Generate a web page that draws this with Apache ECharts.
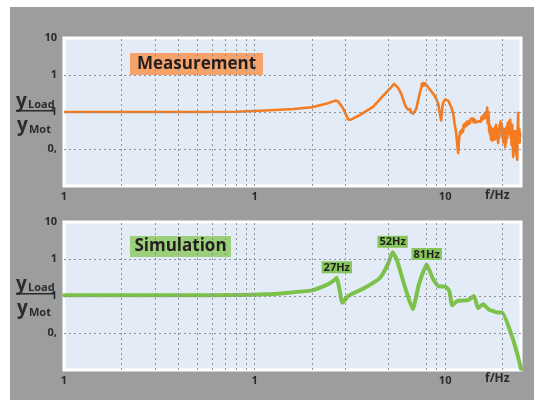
<!DOCTYPE html>
<html>
<head>
<meta charset="utf-8">
<script src="https://cdn.jsdelivr.net/npm/echarts@6/dist/echarts.min.js"></script>
<style>
html,body{margin:0;padding:0;background:#fff;}
#EchartBox{width:534px;height:400px;}
</style>
</head>
<body>
<div id="EchartBox"></div>
<script>
// measured transfer ratio yLoad/yMot, [f in Hz, ratio]
var measData = [[1,1.0],[2,1.0],[5,1.0],[8,1.02],[11.4,1.1],[16,1.2],[20,1.34],[24,1.7],[26.5,2.03],[27.4,1.95],[29,1.3],[31,0.63],[32,0.62],
	[36,0.85],[42,1.4],[47.3,2.75],[52,4.6],[54,5.75],[56.7,4.5],[59,3.0],[61.7,1.5],[62.2,1.6],[62.5,1.35],[63.2,1.45],[63.9,1.15],[64.4,1.3],
	[65,1.05],[65.6,1.2],[66,1.0],[67,1.1],[67.8,0.9],[68.8,0.81],[70.5,1.2],[72.1,2.03],[74,3.6],[75,4.6],[75.5,5.8],[76.2,5.0],[76.7,6.1],
	[77.5,5.2],[78.5,6.0],[79.5,5.3],[80.5,5.0],[81.5,4.5],[84,3.8],[86.5,3.1],[89,2.5],[91.9,1.69],[93.5,1.0],[95.3,0.59],[96.5,1.3],
	[97.6,1.79],[100,2.2],[102.4,2.29],[104,2.0],[106.2,1.91],[108,1.3],[110.2,0.91],[112,0.5],[114.3,0.27],[116,0.12],[117,0.078],
	[118.5,0.2],[120,0.3],[121,0.26],[122.8,0.34],[124,0.29],[125,0.45],[126,0.38],[127.4,0.49],[129,0.42],[130,0.55],[132,0.46],
	[134,0.58],[135,0.5],[136.5,0.66],[138.6,0.6],[140,0.67],[141,0.53],[143,0.62],[144.5,0.52],[146,0.58],[148,0.47],[150,0.56],
	[152,0.62],[154,0.55],[155,0.72],[157,0.62],[158.3,0.81],[159.5,0.66],[161,0.9],[162,0.7],[163.5,1.0],[165,0.75],[166.1,1.32],
	[167,0.5],[168.5,1.0],[169.5,0.6],[170.2,0.3],[171,0.45],[172,0.25],[173,0.4],[174,0.18],[175.5,0.3],[176.4,0.17],[178,0.35],
	[179,0.22],[180,0.3],[181.5,0.18],[183,0.39],[184,0.25],[185,0.45],[186,0.2],[187,0.3],[188.5,0.18],[189.8,0.145],[191,0.35],
	[192,0.2],[193,0.45],[194,0.25],[195,0.55],[196,0.3],[197.5,0.5],[199.2,0.35],[200,0.2],[201,0.3],[202,0.15],[203,0.35],
	[205,0.2],[206.6,0.113],[207.5,0.25],[208,0.35],[209,0.15],[210,0.4],[211.5,0.2],[213,0.5],[214.5,0.25],[216,0.55],[217.5,0.3],
	[219.4,0.62],[220.5,0.3],[221,0.2],[222,0.4],[223,0.13],[224,0.3],[225,0.45],[226,0.15],[227.6,0.061],[229,0.25],[230,0.12],
	[231,0.3],[232,0.09],[233,0.2],[234,0.3],[235,0.1],[236,0.07],[237,0.2],[238.8,0.051],[239.5,0.15],[240,0.3],[241,0.6],[241.6,0.95],
	[242,0.3],[242.5,0.15],[243.5,0.3],[244,0.2],[245,0.35],[246,0.15],[247,0.28],[247.6,0.21]];

// simulated transfer ratio
var simData = [[1,1.05],[5,1.05],[11.4,1.11],[20,1.42],[24.2,2.06],[26,2.6],[27,3.1],[27.8,1.67],[28.9,0.66],[31,1.0],[37.9,1.67],
	[45.5,3.1],[50,7.1],[53,15.2],[55.7,9.67],[61.7,1.67],[67.6,0.44],[72.8,2.06],[80,7.1],[86.5,2.81],[91.9,1.86],[100.5,1.78],
	[105.2,1.36],[108.9,0.56],[115.6,0.73],[131.9,0.77],[141.7,1.0],[148.9,0.47],[158.3,0.6],[168.5,0.44],[189.8,0.356],[199.2,0.356],
	[225.2,0.076],[241.6,0.022],[250,0.0108]];

var peakFreq = [27, 53, 80];
var peakVal = [3.1, 15.2, 7.1];
var peakLabel = ['27Hz', '52Hz', '81Hz'];

var xGridLines = [2,3,4,5,6,7,8,9,10,20,30,50,80,90,100,200];
var yGridLines = [0.1,1,10];

// tick texts as printed on the original (by decade exponent)
var xTickText = {'0':'1', '1':'1', '2':'10'};
var yTickText = {'2':'10', '1':'1', '0':'1', '-1':'0,'};

var FONT = 'Open Sans';
var gridTops = [38, 222];

function decadeText(table) {
	return function (v) {
		var e = Math.log(v) / Math.LN10;
		var r = Math.round(e);
		if (Math.abs(e - r) > 0.01) return '';
		return table[String(r)] || '';
	};
}

function makeX(idx) {
	return {
		type:'log', logBase:10, gridIndex:idx, min:1, max:250,
		axisLine:{show:false}, axisTick:{show:false}, splitLine:{show:false},
		axisLabel:{margin:5, color:'#2b2b2b', fontSize:11, fontWeight:'bold', fontFamily:FONT, formatter:decadeText(xTickText)}
	};
}
function makeY(idx) {
	return {
		type:'log', logBase:10, gridIndex:idx, min:0.01, max:100,
		axisLine:{show:false}, axisTick:{show:false}, splitLine:{show:false},
		axisLabel:{margin:7, color:'#2b2b2b', fontSize:11, fontWeight:'bold', fontFamily:FONT, formatter:decadeText(yTickText)}
	};
}

// dashed grid drawn as markLines on an empty helper series
function gridSeries(idx) {
	var lines = [];
	for (var i = 0; i < xGridLines.length; i++) lines.push({xAxis:xGridLines[i]});
	for (var j = 0; j < yGridLines.length; j++) lines.push({yAxis:yGridLines[j]});
	return {
		type:'line', xAxisIndex:idx, yAxisIndex:idx, data:[], z:1, silent:true,
		markLine:{silent:true, symbol:'none', label:{show:false}, animation:false,
			lineStyle:{color:'#8f9193', width:1, type:[2,3]}, data:lines}
	};
}

// y_Load / y_Mot fraction label
function fractionLabel(top) {
	var c = '#2b2b2b';
	return [
		{type:'text', left:16, top:top - 19, z:10, style:{text:'y', fill:c, font:'bold 19px "' + FONT + '"'}},
		{type:'text', left:28, top:top - 12, z:10, style:{text:'Load', fill:c, font:'bold 11px "' + FONT + '"'}},
		{type:'rect', z:10, shape:{x:16, y:top - 1, width:38, height:1.6}, style:{fill:c}},
		{type:'text', left:17, top:top + 5, z:10, style:{text:'y', fill:c, font:'bold 19px "' + FONT + '"'}},
		{type:'text', left:29, top:top + 13, z:10, style:{text:'Mot', fill:c, font:'bold 11px "' + FONT + '"'}}
	];
}

function titleBox(x, y, w, h, fill, text) {
	return [
		{type:'rect', z:5, shape:{x:x, y:y, width:w, height:h}, style:{fill:fill}},
		{type:'text', z:10, x:x + w / 2, y:y + h / 2,
			style:{text:text, fill:'#231f20', font:'bold 17px "' + FONT + '"', align:'center', verticalAlign:'middle'}}
	];
}

var peakPoints = [];
for (var p = 0; p < peakFreq.length; p++) {
	peakPoints.push({name:peakLabel[p], coord:[peakFreq[p], peakVal[p]]});
}

var graphics = [
	{type:'rect', z:-10, shape:{x:10, y:7, width:524, height:393}, style:{fill:'#9b9d9f'}},
	{type:'text', z:10, left:485, top:190, style:{text:'f/Hz', fill:'#2b2b2b', font:'bold 12px "' + FONT + '"'}},
	{type:'text', z:10, left:485, top:373, style:{text:'f/Hz', fill:'#2b2b2b', font:'bold 12px "' + FONT + '"'}}
].concat(fractionLabel(111), fractionLabel(294),
	titleBox(130, 53, 133, 22, '#f5a36b', 'Measurement'),
	titleBox(130, 236, 101, 21, '#9ccf79', 'Simulation'));

var option = {
	animation:false,
	backgroundColor:'#fff',
	grid:[
		{left:64, top:gridTops[0], width:457, height:148, show:true, backgroundColor:'#e3ecf6', borderColor:'#fff', borderWidth:3},
		{left:64, top:gridTops[1], width:457, height:148, show:true, backgroundColor:'#e3ecf6', borderColor:'#fff', borderWidth:3}
	],
	xAxis:[makeX(0), makeX(1)],
	yAxis:[makeY(0), makeY(1)],
	graphic:graphics,
	series:[
		gridSeries(0),
		gridSeries(1),
		{
			name:'Measurement', type:'line', xAxisIndex:0, yAxisIndex:0, z:3,
			showSymbol:false, data:measData,
			lineStyle:{color:'#f47b20', width:2.6, join:'round'}
		},
		{
			name:'Simulation', type:'line', xAxisIndex:1, yAxisIndex:1, z:3,
			showSymbol:false, smooth:0.15, data:simData,
			lineStyle:{color:'#7cc24a', width:4, join:'round', cap:'round'},
			markPoint:{
				symbol:'circle', symbolSize:1, itemStyle:{color:'rgba(0,0,0,0)'},
				label:{show:true, position:'top', distance:4, formatter:'{b}', color:'#231f20',
					fontSize:11, fontWeight:'bold', fontFamily:FONT, backgroundColor:'#86c45c', padding:[1,2,0,2]},
				data:peakPoints
			}
		}
	]
};

var myChart = echarts.init(document.getElementById('EchartBox'));
myChart.setOption(option);
</script>
</body>
</html>
